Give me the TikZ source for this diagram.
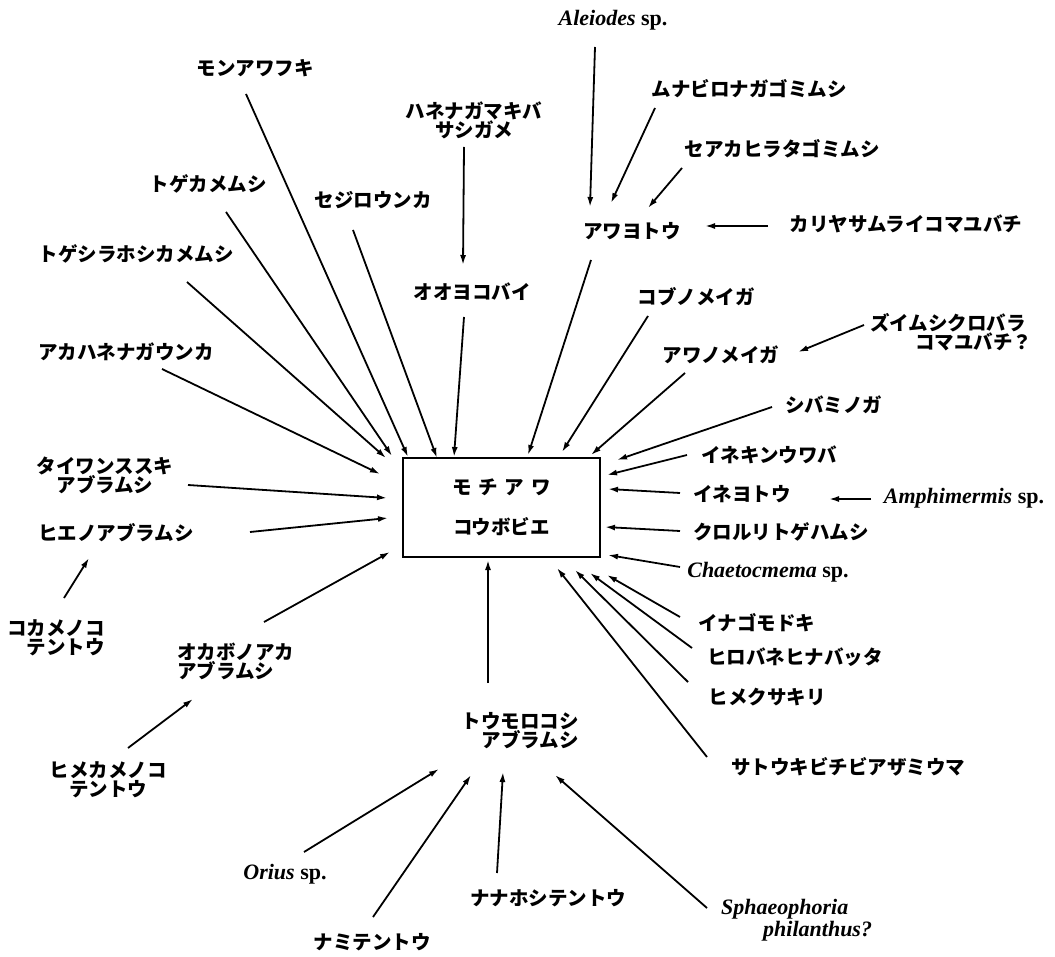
\documentclass[tikz,border=0pt]{standalone}
\usepackage{fontspec}
\setmainfont{Liberation Serif}
\newfontfamily\jp{Noto Sans CJK JP}
\usetikzlibrary{arrows.meta}
\tikzset{
  jl/.style={font=\jp\bfseries\fontsize{19.5}{19}\selectfont, inner sep=0pt, align=center},
  ll/.style={font=\bfseries\fontsize{22}{22}\selectfont, inner sep=0pt, align=center},
  arr/.style={line width=1.8pt, -{Latex[length=10pt,width=6pt]}},
  mainbox/.style={draw, line width=2.5pt, minimum width=197pt, minimum height=99pt, inner sep=0pt,
    font=\jp\bfseries\fontsize{19.5}{19}\selectfont, align=center}
}
\begin{document}
\begin{tikzpicture}[x=1pt,y=-1pt]
\useasboundingbox (0,0) rectangle (1055,957);
% central box
\node[mainbox] (box) at (501.5,507.5) {モ\hspace{7pt}チ\hspace{7pt}ア\hspace{7pt}ワ\\[21pt]コウボビエ};
% labels
\node[ll] (ale) at (613,20) {\textit{Aleiodes} sp.};
\node[jl] (mun) at (749,89) {ムナビロナガゴミムシ};
\node[jl] (sea) at (782,149) {セアカヒラタゴミムシ};
\node[jl] (awy) at (632,231) {アワヨトウ};
\node[jl] (kar) at (906,224) {カリヤサムライコマユバチ};
\node[jl] (hane) at (474,120) {ハネナガマキバ\\サシガメ};
\node[jl] (ooy) at (472,292) {オオヨコバイ};
\node[jl] (mon) at (255,68) {モンアワフキ};
\node[jl] (toge) at (208,184) {トゲカメムシ};
\node[jl] (tsh) at (136,254) {トゲシラホシカメムシ};
\node[jl] (sej) at (373,200) {セジロウンカ};
\node[jl] (aka) at (126,352) {アカハネナガウンカ};
\node[jl] (tai) at (105,475) {タイワンススキ\\アブラムシ};
\node[jl] (hie) at (116,533) {ヒエノアブラムシ};
\node[jl, anchor=east, align=right] (koka) at (105,638) {コカメノコ\\テントウ};
\node[jl, anchor=west, align=left] (oka) at (177,661) {オカボノアカ\\アブラムシ};
\node[jl] (hime) at (108,780) {ヒメカメノコ\\テントウ};
\node[jl, anchor=east, align=right] (tou) at (579,731) {トウモロコシ\\アブラムシ};
\node[ll] (ori) at (285,874) {\textit{Orius} sp.};
\node[jl] (nami) at (372,942) {ナミテントウ};
\node[jl] (nana) at (548,898) {ナナホシテントウ};
\node[ll, anchor=west, align=left] (sph) at (721,920) {\textit{Sphaeophoria}\\\hspace*{42pt}\textit{philanthus?}};
\node[jl] (kobu) at (696,297) {コブノメイガ};
\node[jl] (awn) at (721,355) {アワノメイガ};
\node[jl, anchor=west, align=left] (zui) at (870,332) {ズイムシクロバラ\\\hspace*{45pt}コマユバチ？};
\node[jl] (shi) at (834,405) {シバミノガ};
\node[jl] (ikw) at (769,455) {イネキンウワバ};
\node[jl] (iny) at (742,494) {イネヨトウ};
\node[ll] (amp) at (964,498) {\textit{Amphimermis} sp.};
\node[jl] (kur) at (781,532) {クロルリトゲハムシ};
\node[ll] (cha) at (768,572) {\textit{Chaetocmema} sp.};
\node[jl] (ing) at (757,623) {イナゴモドキ};
\node[jl] (hir) at (795,657) {ヒロバネヒナバッタ};
\node[jl] (hmk) at (767,697) {ヒメクサキリ};
\node[jl] (sat) at (848,767) {サトウキビチビアザミウマ};
% connector end points
\coordinate (s1) at (595,47);   \coordinate (e1) at (590,207);
\coordinate (s2) at (655,108);  \coordinate (e2) at (611,203);
\coordinate (s3) at (682,168);  \coordinate (e3) at (648,208);
\coordinate (s4) at (768,226);  \coordinate (e4) at (705,226);
\coordinate (s5) at (591,260);  \coordinate (e5) at (528,455);
\coordinate (s6) at (464,147);  \coordinate (e6) at (463,265);
\coordinate (s7) at (464,317);  \coordinate (e7) at (454,457);
\coordinate (s8) at (246,94);   \coordinate (e8) at (408,457);
\coordinate (s9) at (226,212);  \coordinate (e9) at (392,456);
\coordinate (s10) at (187,282); \coordinate (e10) at (386,458);
\coordinate (s11) at (353,230); \coordinate (e11) at (437,458);
\coordinate (s12) at (162,369); \coordinate (e12) at (380,474);
\coordinate (s13) at (188,485); \coordinate (e13) at (387,498);
\coordinate (s14) at (250,532); \coordinate (e14) at (388,518);
\coordinate (s15) at (64,598);  \coordinate (e15) at (89,558);
\coordinate (s16) at (264,622); \coordinate (e16) at (390,552);
\coordinate (s17) at (128,748); \coordinate (e17) at (193,699);
\coordinate (s18) at (488,683); \coordinate (e18) at (488,560);
\coordinate (s19) at (304,852); \coordinate (e19) at (439,769);
\coordinate (s20) at (373,917); \coordinate (e20) at (471,775);
\coordinate (s21) at (497,873); \coordinate (e21) at (503,772);
\coordinate (s22) at (707,908); \coordinate (e22) at (555,775);
\coordinate (s23) at (648,316); \coordinate (e23) at (562,452);
\coordinate (s24) at (685,373); \coordinate (e24) at (591,455);
\coordinate (s25) at (864,325); \coordinate (e25) at (798,352);
\coordinate (s26) at (772,407); \coordinate (e26) at (617,460);
\coordinate (s27) at (687,455); \coordinate (e27) at (607,475);
\coordinate (s28) at (680,493); \coordinate (e28) at (608,489);
\coordinate (s29) at (871,499); \coordinate (e29) at (829,499);
\coordinate (s30) at (680,531); \coordinate (e30) at (605,527);
\coordinate (s31) at (680,567); \coordinate (e31) at (608,555);
\coordinate (s32) at (680,617); \coordinate (e32) at (607,575);
\coordinate (s33) at (692,648); \coordinate (e33) at (590,573);
\coordinate (s34) at (688,682); \coordinate (e34) at (575,570);
\coordinate (s35) at (707,757); \coordinate (e35) at (557,568);
\foreach \i in {1,...,35} {\draw[arr] (s\i) -- (e\i);}
\end{tikzpicture}
\end{document}
